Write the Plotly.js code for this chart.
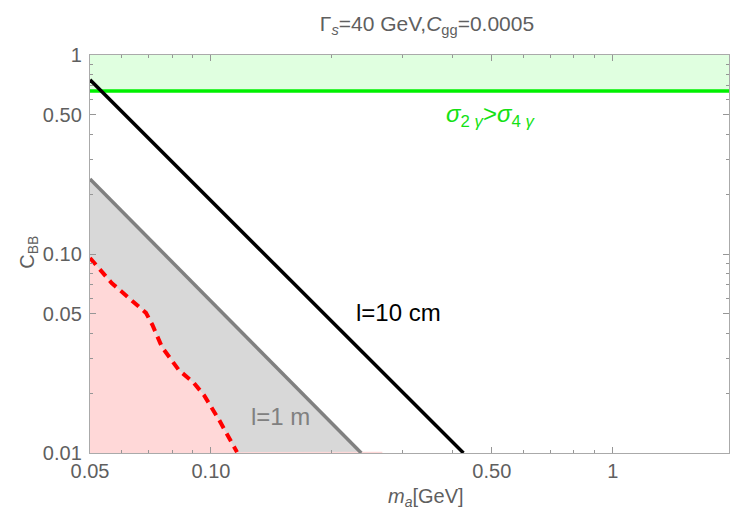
<!DOCTYPE html>
<html>
<head>
<meta charset="utf-8">
<script src="https://cdn.plot.ly/plotly-3.0.1.min.js"></script>
<style>html,body{margin:0;padding:0;background:#fff;}#chart{width:731px;height:517px;}</style>
</head>
<body>
<div id="chart"></div>
<script>
// ---- data ----
const bandLow = 0.66;            // sigma_2gamma > sigma_4gamma boundary
const line10cmX = [0.05, 0.425];
const line10cmY = [0.75, 0.01];
const line1mX = [0.05, 0.1128, 0.2366];
const line1mY = [0.238, 0.0455, 0.01];
const redX = [0.05, 0.0566, 0.0689, 0.0715, 0.0755, 0.0832, 0.0907, 0.0961, 0.1047, 0.1161];
const redY = [0.0955, 0.0715, 0.0506, 0.0440, 0.0341, 0.0261, 0.0225, 0.0195, 0.0147, 0.0101];
const pinkEdgeX = 0.267;
const xTickVals = [0.05, 0.1, 0.5, 1];
const xTickText = ["0.05", "0.10", "0.50", "1"];
const xMinor = [0.06, 0.07, 0.08, 0.09, 0.2, 0.3, 0.4, 0.6, 0.7, 0.8, 0.9];
const yTickVals = [0.01, 0.05, 0.1, 0.5, 1];
const yTickText = ["0.01", "0.05", "0.10", "0.50", "1"];
const yMinor = [0.02, 0.03, 0.04, 0.06, 0.07, 0.08, 0.09, 0.2, 0.3, 0.4, 0.6, 0.7, 0.8, 0.9];
const xMin = 0.05, xMax = 1.946, yMin = 0.01, yMax = 1;

const FONT = 'Liberation Sans, Arial, sans-serif';
const TXT = 'rgb(95,95,95)';
const lo = 0.005, far = 5;
const n1 = line1mX.length;
const traces = [
  { // green band
    x: [0.01, far, far, 0.01], y: [bandLow, bandLow, 2, 2],
    fill: 'toself', fillcolor: 'rgb(224,255,224)', line: {width: 0}, mode: 'lines', hoverinfo: 'skip'
  },
  { // gray region below l=1 m
    x: line1mX.concat([line1mX[n1-1], 0.01, 0.01]),
    y: line1mY.concat([lo, lo, line1mY[0]]),
    fill: 'toself', fillcolor: 'rgb(216,216,216)', line: {width: 0}, mode: 'lines', hoverinfo: 'skip'
  },
  { // pink region below red dashed
    x: [0.01].concat(redX, [pinkEdgeX, pinkEdgeX, 0.01]),
    y: [redY[0]].concat(redY, [0.01015, lo, lo]),
    fill: 'toself', fillcolor: 'rgb(255,216,216)', line: {width: 0}, mode: 'lines', hoverinfo: 'skip'
  },
  { x: [0.01, far], y: [bandLow, bandLow], mode: 'lines', line: {color: 'rgb(0,240,0)', width: 3.5} },
  { x: line1mX, y: line1mY, mode: 'lines', line: {color: 'rgb(128,128,128)', width: 3.5} },
  { x: redX, y: redY, mode: 'lines', line: {color: 'rgb(255,0,0)', width: 4, dash: '9px,6px'} },
  { x: line10cmX, y: line10cmY, mode: 'lines', line: {color: 'black', width: 3.5} }
];

const axisCommon = {
  type: 'log', showgrid: false, zeroline: false,
  showline: true, linecolor: 'rgb(170,170,170)', linewidth: 1.2, mirror: 'allticks',
  ticks: 'inside', ticklen: 6, tickcolor: 'rgb(150,150,150)', tickwidth: 1,
  tickfont: {family: FONT, size: 20, color: TXT},
  tickmode: 'array'
};

const layout = {
  width: 731, height: 517,
  margin: {l: 90, r: 2, t: 55, b: 64},
  paper_bgcolor: 'white', plot_bgcolor: 'white',
  showlegend: false,
  title: {
    text: 'Γ<sub><i>s</i></sub>=40 GeV,<i>C</i><sub>gg</sub>=0.0005',
    font: {family: FONT, size: 21, color: TXT},
    x: (427 - 90) / 639, xref: 'paper', xanchor: 'center', y: 0.955, yanchor: 'middle'
  },
  xaxis: Object.assign({}, axisCommon, {
    range: [Math.log10(xMin), Math.log10(xMax)],
    tickvals: xTickVals, ticktext: xTickText,
    minor: {tickvals: xMinor, ticks: 'inside', ticklen: 3, tickcolor: 'rgb(150,150,150)'}
  }),
  yaxis: Object.assign({}, axisCommon, {
    range: [Math.log10(yMin), Math.log10(yMax)],
    tickvals: yTickVals, ticktext: yTickText,
    ticklabelstandoff: 3,
    minor: {tickvals: yMinor, ticks: 'inside', ticklen: 3, tickcolor: 'rgb(150,150,150)'}
  }),
  annotations: [
    {x: (426 - 90) / 639, y: (453 - 497) / 398, xref: 'paper', yref: 'paper', text: '<i>m</i><sub><i>a</i></sub>[GeV]',
      showarrow: false, font: {family: FONT, size: 20, color: TXT}, xanchor: 'center', yanchor: 'middle'},
    {x: -61 / 639, y: 0.503, xref: 'paper', yref: 'paper', text: 'C<sub>BB</sub>', textangle: -90,
      showarrow: false, font: {family: FONT, size: 20, color: TXT}, xanchor: 'center', yanchor: 'middle'},
    {x: Math.log10(0.293), y: Math.log10(0.0506), xref: 'x', yref: 'y', text: 'l=10 cm', showarrow: false,
      font: {family: FONT, size: 24, color: 'black'}, xanchor: 'center', yanchor: 'middle'},
    {x: Math.log10(0.1486), y: Math.log10(0.0152), xref: 'x', yref: 'y', text: 'l=1 m', showarrow: false,
      font: {family: FONT, size: 24, color: 'rgb(128,128,128)'}, xanchor: 'center', yanchor: 'middle'},
    {x: Math.log10(0.496), y: Math.log10(0.494), xref: 'x', yref: 'y',
      text: '<i>σ</i><sub>2 <i>γ</i></sub>><i>σ</i><sub>4 <i>γ</i></sub>', showarrow: false,
      font: {family: FONT, size: 24, color: 'rgb(20,225,20)'}, xanchor: 'center', yanchor: 'middle'}
  ]
};

Plotly.newPlot('chart', traces, layout, {displayModeBar: false, staticPlot: true});
</script>
</body>
</html>
